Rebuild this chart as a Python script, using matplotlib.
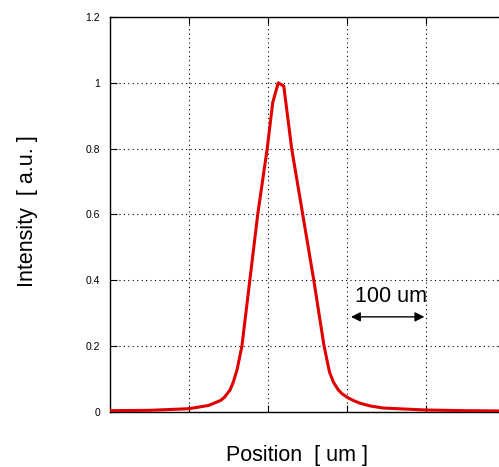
import matplotlib
matplotlib.use("Agg")
import matplotlib.pyplot as plt

# Beam profile (position in um, normalised intensity)
position_um = [0, 50, 100, 125, 140, 145, 152, 156, 161, 167, 177, 187, 199,
               206, 213, 220, 230, 244, 258, 271, 278, 283, 289, 294, 300,
               308, 316, 330, 346, 400, 450, 500]
intensity = [0.004, 0.005, 0.01, 0.02, 0.035, 0.045, 0.067, 0.09, 0.13, 0.2,
             0.4, 0.6, 0.8, 0.94, 1.0, 0.99, 0.8, 0.6, 0.4, 0.2, 0.12, 0.09,
             0.067, 0.055, 0.045, 0.035, 0.027, 0.018, 0.012, 0.006, 0.004,
             0.003]
y_ticks = [0, 0.2, 0.4, 0.6, 0.8, 1.0, 1.2]
x_ticks = [100, 200, 300, 400]
scale_bar = (305, 398)   # 100 um arrow

plt.rcParams['font.family'] = ['Liberation Sans', 'DejaVu Sans']

fig = plt.figure(figsize=(4.99, 4.67), dpi=100)
ax = fig.add_axes([0.2204, 0.1178, 0.7916, 0.8458])

ax.plot(position_um, intensity, color='#e00000', lw=2.2, zorder=3)

ax.set_xlim(0, 500)
ax.set_ylim(0, 1.2)
ax.set_xticks(x_ticks)
ax.set_xticklabels([])
ax.set_yticks(y_ticks)
ax.set_yticklabels(['%g' % v for v in y_ticks], fontsize=7.5)
ax.tick_params(axis='both', direction='in', length=5, width=0.8,
               top=True, right=True, pad=7)
ax.grid(True, color='black', lw=0.8, linestyle=(0, (1, 3)))
for sp in ax.spines.values():
    sp.set_linewidth(1.0)

ax.set_xlabel('Position  [ um ]', fontsize=15.5)
ax.set_ylabel('Intensity  [ a.u. ]', fontsize=15.5)
ax.xaxis.set_label_coords(0.473, -0.083)
ax.yaxis.set_label_coords(-0.181, 0.509)

# scale bar
ax.annotate('', xy=(scale_bar[0], 0.289), xytext=(scale_bar[1], 0.289),
            arrowprops=dict(arrowstyle='<|-|>', color='black', lw=1.0,
                            mutation_scale=14, shrinkA=0, shrinkB=0))
ax.text(scale_bar[0] + 5, 0.352, '100 um', fontsize=15.5, va='center',
        ha='left')

fig.savefig('out.png', dpi=100)
